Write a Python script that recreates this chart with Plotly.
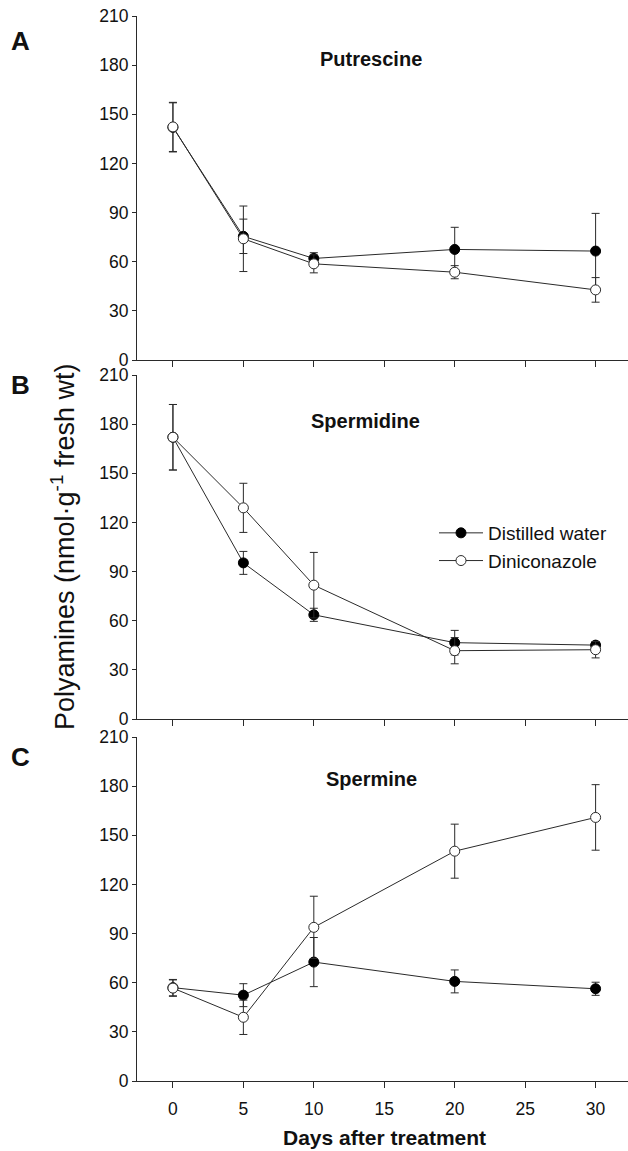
import plotly.graph_objects as go

days = [0, 5, 10, 20, 30]

put_water = [142, 75.5, 62, 67.5, 66.5]
put_water_err = [15, 10.5, 3.5, 13.5, 23]
put_dini = [142.3, 74, 58.7, 53.6, 42.8]
put_dini_err = [15, 20, 5.5, 4, 7.5]

spd_water = [172, 95.3, 63.6, 46.6, 45.1]
spd_water_err = [20, 7, 4, 7.5, 2]
spd_dini = [172, 128.9, 81.7, 41.7, 42.3]
spd_dini_err = [20, 15, 20, 8, 5]

spm_water = [57, 52.4, 72.6, 60.8, 56.3]
spm_water_err = [5, 7, 15, 7, 4]
spm_dini = [56.7, 38.9, 93.8, 140.3, 160.9]
spm_dini_err = [5, 10.5, 19, 16.5, 20]

panel_titles = ["Putrescine", "Spermidine", "Spermine"]
panel_letters = ["A", "B", "C"]
series_names = ["Distilled water", "Diniconazole"]
y_ticks = [0, 30, 60, 90, 120, 150, 180, 210]
x_ticks = [0, 5, 10, 15, 20, 25, 30]

W, H = 628, 1151
ML, MR, MT, MB = 137, 0, 16, 70
PW = W - ML - MR
PH = H - MT - MB

def py(px):
    return (H - MB - px) / PH

def pxp(px):
    return (px - ML) / PW

# panel pixel bounds (210 line, 0 line)
bounds = [(16, 360), (375, 719), (737, 1081)]

FONT = "Liberation Sans, Arial, sans-serif"
LC = "#2a2a2a"
TC = "#111111"

fig = go.Figure()

panels = [
    (put_water, put_water_err, put_dini, put_dini_err),
    (spd_water, spd_water_err, spd_dini, spd_dini_err),
    (spm_water, spm_water_err, spm_dini, spm_dini_err),
]

for i, (w, we, d, de) in enumerate(panels):
    ax = "" if i == 0 else str(i + 1)
    show = (i == 1)
    fig.add_trace(go.Scatter(
        x=days, y=w, name=series_names[0], mode="lines+markers",
        xaxis="x" + ax, yaxis="y" + ax, showlegend=show,
        line=dict(color=LC, width=1),
        marker=dict(symbol="circle", size=10, color="black", line=dict(color="black", width=1)),
        error_y=dict(type="data", array=we, visible=True, color=LC, thickness=1, width=4),
    ))
    fig.add_trace(go.Scatter(
        x=days, y=d, name=series_names[1], mode="lines+markers",
        xaxis="x" + ax, yaxis="y" + ax, showlegend=show,
        line=dict(color=LC, width=1),
        marker=dict(symbol="circle", size=10, color="white", line=dict(color=LC, width=1)),
        error_y=dict(type="data", array=de, visible=True, color=LC, thickness=1, width=4),
    ))

layout = dict(
    width=W, height=H,
    margin=dict(l=ML, r=MR, t=MT, b=MB),
    paper_bgcolor="white", plot_bgcolor="white",
    font=dict(family=FONT, color=TC),
    showlegend=True,
    legend=dict(
        x=pxp(434), y=py(514), xanchor="left", yanchor="top",
        font=dict(size=19, family=FONT, color=TC),
        bgcolor="rgba(0,0,0,0)", itemwidth=44,
    ),
)

for i, (top, bot) in enumerate(bounds):
    ax = "" if i == 0 else str(i + 1)
    layout["xaxis" + ax] = dict(
        domain=[0, 1], range=[-2.55, 32.3], anchor="y" + ax,
        showline=True, linecolor=LC, linewidth=1, showgrid=False, zeroline=False,
        ticks="outside", ticklen=6, tickcolor=LC, tickwidth=1,
        tickvals=x_ticks, showticklabels=(i == 2), ticklabelstandoff=6,
        tickfont=dict(size=17.5, family=FONT, color=TC),
    )
    layout["yaxis" + ax] = dict(
        domain=[py(bot), py(top)], range=[0, 210], anchor="x" + ax,
        showline=True, linecolor=LC, linewidth=1, showgrid=False, zeroline=False,
        ticks="outside", ticklen=4, tickcolor=LC, tickwidth=1,
        tickvals=y_ticks, tickfont=dict(size=17.5, family=FONT, color=TC),
    )

fig.update_layout(**layout)

ann = []
title_x = [371, 365, 371]
title_y = [59, 421, 779]
letter_y = [41, 385, 757]
for i in range(3):
    ann.append(dict(text="<b>%s</b>" % panel_titles[i], x=pxp(title_x[i]), y=py(title_y[i]),
                    xref="paper", yref="paper", showarrow=False, xanchor="center", yanchor="middle",
                    font=dict(size=20, family=FONT, color=TC)))
    ann.append(dict(text="<b>%s</b>" % panel_letters[i], x=pxp(20), y=py(letter_y[i]),
                    xref="paper", yref="paper", showarrow=False, xanchor="center", yanchor="middle",
                    font=dict(size=26, family=FONT, color=TC)))
ann.append(dict(text="<b>Days after treatment</b>", x=pxp(384), y=py(1137),
                xref="paper", yref="paper", showarrow=False, xanchor="center", yanchor="middle",
                font=dict(size=21, family=FONT, color=TC)))
ann.append(dict(text="Polyamines (nmol·g<sup>-1</sup> fresh wt)", x=pxp(63), y=py(547),
                xref="paper", yref="paper", showarrow=False, xanchor="center", yanchor="middle",
                textangle=-90, font=dict(size=27, family=FONT, color=TC)))
fig.update_layout(annotations=ann)

fig.write_html("out.html")
